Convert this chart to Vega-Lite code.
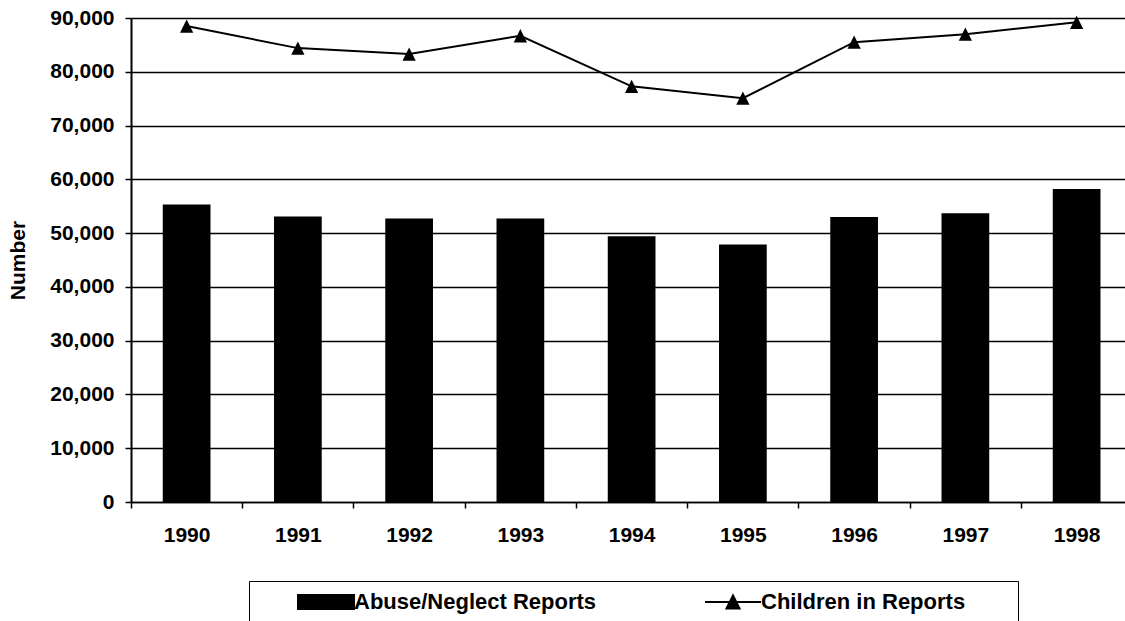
{
  "$schema": "https://vega.github.io/schema/vega-lite/v6.json",
  "width": 994,
  "height": 484,
  "autosize": {"type": "none"},
  "padding": {"left": 131, "top": 18, "right": 0, "bottom": 119},
  "background": "white",
  "config": {
    "view": {"stroke": null},
    "font": "Liberation Sans"
  },
  "data": {
    "values": [
      {"year": "1990", "reports": 55300, "children": 88500},
      {"year": "1991", "reports": 53100, "children": 84400},
      {"year": "1992", "reports": 52700, "children": 83300},
      {"year": "1993", "reports": 52700, "children": 86700},
      {"year": "1994", "reports": 49400, "children": 77300},
      {"year": "1995", "reports": 47900, "children": 75100},
      {"year": "1996", "reports": 53000, "children": 85500},
      {"year": "1997", "reports": 53700, "children": 87000},
      {"year": "1998", "reports": 58200, "children": 89200}
    ]
  },
  "encoding": {
    "x": {
      "field": "year",
      "type": "ordinal",
      "scale": {"range": [0, 1001.25], "paddingInner": 0.571, "paddingOuter": 0.2855},
      "axis": {
        "title": null,
        "labelAngle": 0,
        "labelFont": "Liberation Sans",
        "labelFontSize": 21,
        "labelFontWeight": "bold",
        "labelColor": "black",
        "labelPadding": 16,
        "domainColor": "black",
        "domainWidth": 1.5,
        "tickColor": "black",
        "tickWidth": 1.5,
        "tickSize": 6,
        "bandPosition": 0,
        "tickOffset": -31.8,
        "labelOffset": 31.8,
        "grid": false
      }
    }
  },
  "layer": [
    {
      "mark": {"type": "bar", "color": "black"},
      "encoding": {
        "y": {
          "field": "reports",
          "type": "quantitative",
          "scale": {"domain": [0, 90000], "nice": false},
          "axis": {
            "title": "Number",
            "values": [0, 10000, 20000, 30000, 40000, 50000, 60000, 70000, 80000, 90000],
            "format": ",d",
            "labelFont": "Liberation Sans",
            "labelFontSize": 21,
            "labelFontWeight": "bold",
            "labelColor": "black",
            "labelPadding": 11,
            "domainColor": "black",
            "domainWidth": 2,
            "tickColor": "black",
            "tickWidth": 1.5,
            "tickSize": 6,
            "grid": true,
            "gridColor": "black",
            "gridWidth": 1.5,
            "titleFont": "Liberation Sans",
            "titleFontSize": 21,
            "titleFontWeight": "bold",
            "titleColor": "black",
            "titleAngle": 270,
            "titleX": -113,
            "titleY": 242,
            "titleAlign": "center",
            "titleBaseline": "middle"
          }
        },
        "color": {
          "datum": "Abuse/Neglect Reports",
          "scale": {
            "domain": ["Abuse/Neglect Reports", "Children in Reports"],
            "range": ["black", "black"]
          },
          "legend": {
            "title": null,
            "orient": "none",
            "legendX": 118,
            "legendY": 563,
            "direction": "horizontal",
            "columns": 2,
            "padding": 10,
            "strokeColor": "black",
            "fillColor": "white",
            "symbolSize": 196,
            "symbolOffset": 56,
            "labelOffset": 17,
            "columnPadding": 69,
            "labelLimit": 600,
            "labelFont": "Liberation Sans",
            "labelFontSize": 22,
            "labelFontWeight": "bold",
            "labelColor": "black",
            "encode": {
              "symbols": {
                "update": {
                  "shape": {"signal": "datum.value === 'Abuse/Neglect Reports' ? 'M-4,-1H4V1H-4Z' : 'M-4,0H4M0,-0.93L0.93,0.93H-0.93Z'"},
                  "fill": {"value": "black"},
                  "stroke": {"signal": "datum.value === 'Abuse/Neglect Reports' ? null : 'black'"},
                  "strokeWidth": {"value": 2},
                  "opacity": {"value": 1},
                  "size": {"value": 196}
                }
              },
              "labels": {
                "update": {
                  "text": {"signal": "datum.value === 'Children in Reports' ? datum.value + '\u00a0\u00a0\u00a0\u00a0\u00a0\u00a0\u00a0\u200b' : datum.value"}
                }
              }
            }
          }
        }
      }
    },
    {
      "mark": {
        "type": "line",
        "strokeWidth": 2,
        "point": {"filled": true, "shape": "M0,-1L1,1H-1Z", "size": 177, "opacity": 1}
      },
      "encoding": {
        "y": {"field": "children", "type": "quantitative"},
        "color": {"datum": "Children in Reports"}
      }
    }
  ]
}
